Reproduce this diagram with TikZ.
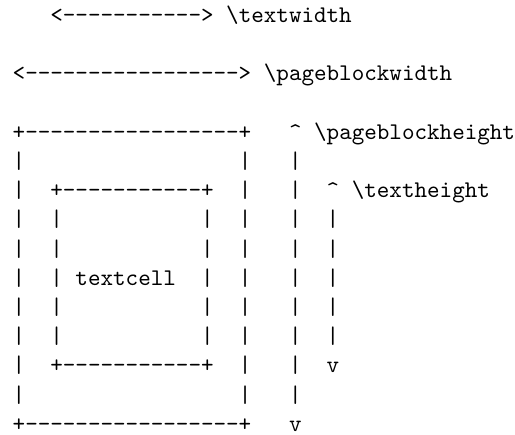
\documentclass[tikz,border=0pt]{standalone}
\newcommand{\dashrun}[1]{\foreach \k in {1,...,#1}{\mbox{-}}}
\newcommand{\cell}[4]{\node[tt] (#1) at ({12.7+#2*12.56},{-22.5-#3*29.2}) {#4};}
\tikzset{tt/.style={anchor=base west, inner sep=0pt, outer sep=0pt, font=\ttfamily\fontsize{10}{12}\selectfont, text=black}}
\begin{document}
\begin{tikzpicture}[x=0.4181pt,y=0.4181pt]
\useasboundingbox (0,0) rectangle (515,-434);
% top width arrows
\cell{tw}{3}{0}{<\dashrun{11}>}
\cell{twl}{17}{0}{\textbackslash textwidth}
\cell{pw}{0}{2}{<\dashrun{17}>}
\cell{pwl}{20}{2}{\textbackslash pageblockwidth}
% outer box
\cell{otop}{0}{4}{+\dashrun{17}+}
\cell{obot}{0}{14}{+\dashrun{17}+}
\foreach \r in {5,...,13}{
  \cell{ol\r}{0}{\r}{|}
  \cell{or\r}{18}{\r}{|}
  \cell{ph\r}{22}{\r}{|}
}
\cell{phup}{22}{4}{\textasciicircum}
\cell{phl}{24}{4}{\textbackslash pageblockheight}
\cell{phdn}{22}{14}{v}
% inner box
\cell{itop}{3}{6}{+\dashrun{11}+}
\cell{ibot}{3}{12}{+\dashrun{11}+}
\foreach \r in {7,...,11}{
  \cell{il\r}{3}{\r}{|}
  \cell{ir\r}{15}{\r}{|}
  \cell{th\r}{25}{\r}{|}
}
\cell{tc}{5}{9}{textcell}
\cell{thup}{25}{6}{\textasciicircum}
\cell{thl}{27}{6}{\textbackslash textheight}
\cell{thdn}{25}{12}{v}
\end{tikzpicture}
\end{document}
